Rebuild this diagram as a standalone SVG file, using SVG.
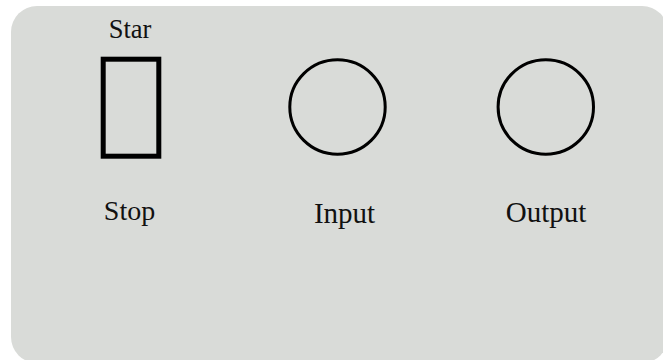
<svg xmlns="http://www.w3.org/2000/svg" width="663" height="360" viewBox="0 0 663 360">
  <style>
    .lbl { font-family: "Liberation Serif", "Times New Roman", serif; fill: #111; text-anchor: middle; }
    .shape { fill: none; stroke: #000; }
  </style>
  <rect x="0" y="0" width="663" height="360" fill="#ffffff"/>
  <rect id="panel" x="11" y="6" width="657" height="357" rx="26" ry="26" fill="#d9dbd8"/>
  <g id="node-start-stop">
    <text class="lbl" x="130" y="37.7" font-size="26.5">Star</text>
    <rect class="shape" x="103.2" y="59.2" width="55.6" height="97" stroke-width="5"/>
    <text class="lbl" x="129.5" y="220" font-size="28">Stop</text>
  </g>
  <g id="node-input">
    <ellipse class="shape" cx="337.5" cy="107" rx="47.7" ry="47.2" stroke-width="3"/>
    <text class="lbl" x="344.5" y="223" font-size="29">Input</text>
  </g>
  <g id="node-output">
    <ellipse class="shape" cx="545.8" cy="107" rx="47.7" ry="47.2" stroke-width="3"/>
    <text class="lbl" x="546" y="221.7" font-size="29">Output</text>
  </g>
  <g id="connectors"></g>
</svg>
